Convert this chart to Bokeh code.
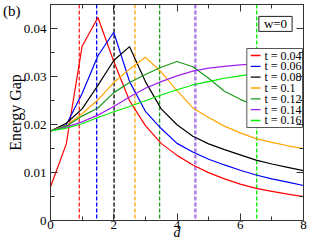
from bokeh.plotting import figure
from bokeh.models import (Span, Label, LinearAxis, Range1d, FixedTicker, CustomJSTickFormatter)
from bokeh.core.properties import value
from bokeh.embed import file_html
from bokeh.resources import INLINE

# ---- data ----
d_red = [0, 0.5, 0.6, 1.0, 1.5, 2.0, 2.5, 3.0, 3.5, 4.0, 4.5, 5.0, 5.5, 6.0, 6.5, 7.0, 7.5, 8.0]
gap_t004 = [0.0070, 0.0160, 0.0202, 0.0364, 0.0424, 0.0332, 0.0250, 0.0198, 0.0161, 0.0136,
            0.0116, 0.0100, 0.0087, 0.0076, 0.0067, 0.0061, 0.0055, 0.0050]

d_grid = [0, 0.5, 1.0, 1.5, 2.0, 2.5, 3.0, 3.5, 4.0, 4.5, 5.0, 5.5, 6.0, 6.5, 7.0, 7.5, 8.0]
gap_t006 = [0.0187, 0.0200, 0.0265, 0.0344, 0.0393, 0.0290, 0.0228, 0.0192, 0.0161, 0.0143,
            0.0128, 0.0116, 0.0105, 0.0095, 0.0087, 0.0080, 0.0073]
gap_t008 = [0.0187, 0.0203, 0.0233, 0.0282, 0.0334, 0.0363, 0.0290, 0.0233, 0.0200, 0.0176,
            0.0160, 0.0148, 0.0137, 0.0126, 0.0118, 0.0111, 0.0104]
gap_t010 = [0.0187, 0.0198, 0.0223, 0.0252, 0.0288, 0.0316, 0.0341, 0.0310, 0.0271, 0.0235,
            0.0215, 0.0197, 0.0183, 0.0171, 0.0163, 0.0156, 0.0150]
gap_t012 = [0.0187, 0.0197, 0.0218, 0.0235, 0.0267, 0.0288, 0.0305, 0.0320, 0.0332, 0.0321,
            0.0297, 0.0270, 0.0253, 0.0239, 0.0226, 0.0215, 0.0205]
gap_t014 = [0.0187, 0.0195, 0.0206, 0.0220, 0.0238, 0.0258, 0.0276, 0.0290, 0.0302, 0.0312,
            0.0318, 0.0322, 0.0325, 0.0327, 0.0328, 0.0329, 0.0329]
gap_t016 = [0.0187, 0.0193, 0.0202, 0.0215, 0.0227, 0.0238, 0.0250, 0.0262, 0.0273, 0.0283,
            0.0290, 0.0297, 0.0302, 0.0307, 0.0310, 0.0312, 0.0314]

t_labels = ["t = 0.04", "t = 0.06", "t = 0.08", "t = 0.1", "t = 0.12", "t = 0.14", "t = 0.16"]
d_marks = [0.91, 1.46, 2.01, 2.67, 3.45, 4.58, 6.52]

x_ticks = [0, 2, 4, 6, 8]
x_minor = [1, 3, 5, 7]
y_ticks = [0, 0.01, 0.02, 0.03, 0.04]
y_minor = [0.005, 0.015, 0.025, 0.035]

colors = ["#ff0000", "#0000ff", "#000000", "#ffa500", "#1c9a1c", "#a020f0", "#00ee00"]
mark_colors = ["#ff2020", "#0000ff", "#000000", "#ffa500", "#1c9a1c", "#b080e8", "#00ee00"]

FONT = "Liberation Serif"
W, H = 317, 245
FL, FR, FT, FB = 44, 14, 4, 25
BOT = H - FB  # frame bottom in page pixels
X0, X1, Y0, Y1 = 0, 8, 0, 0.0451

def px2x(px):
    return X0 + (px - FL) / (W - FL - FR) * (X1 - X0)

def py2y(py):
    return Y0 + (BOT - py) / (BOT - FT) * (Y1 - Y0)

p = figure(width=W, height=H, output_backend="svg", toolbar_location=None,
           x_range=Range1d(X0, X1), y_range=Range1d(Y0, Y1),
           min_border_left=FL, min_border_right=FR, min_border_top=FT, min_border_bottom=FB)
p.background_fill_color = "white"
p.border_fill_color = "white"
p.outline_line_color = "#333333"
p.xgrid.visible = False
p.ygrid.visible = False

xt = FixedTicker(ticks=x_ticks, minor_ticks=x_minor)
yt = FixedTicker(ticks=y_ticks, minor_ticks=y_minor)

def style_axis(ax):
    ax.major_tick_in = 7
    ax.major_tick_out = 0
    ax.minor_tick_in = 4
    ax.minor_tick_out = 0
    ax.axis_line_color = "#333333"
    ax.major_tick_line_color = "#333333"
    ax.minor_tick_line_color = "#333333"
    ax.major_label_text_font = FONT
    ax.major_label_text_font_size = "13px"
    ax.major_label_text_color = "black"
    ax.axis_label_text_font = FONT
    ax.axis_label_text_font_style = "normal"
    ax.axis_label_text_color = "black"

xa = p.xaxis[0]
ya = p.yaxis[0]
xa.ticker = xt
ya.ticker = yt
style_axis(xa)
style_axis(ya)
xa.formatter = CustomJSTickFormatter(code="return tick.toFixed(0);")
ya.formatter = CustomJSTickFormatter(code="return tick == 0 ? '0' : tick.toFixed(2);")
xa.major_label_standoff = 0
ya.major_label_standoff = 4
xa.axis_label = "d"
xa.axis_label_text_font_style = "italic"
xa.axis_label_text_font_size = "14px"
xa.axis_label_standoff = -7
ya.axis_label = "Energy Gap"
ya.axis_label_text_font_size = "16px"
ya.axis_label_standoff = -3

blank = "return '';"
top = LinearAxis(ticker=xt, formatter=CustomJSTickFormatter(code=blank), major_label_standoff=0)
right = LinearAxis(ticker=yt, formatter=CustomJSTickFormatter(code=blank), major_label_standoff=0)
style_axis(top)
style_axis(right)
top.major_label_text_font_size = "0px"
right.major_label_text_font_size = "0px"
p.add_layout(top, "above")
p.add_layout(right, "right")

# panel tag "(b)": an outer left axis with a single labelled tick, no line and no tick marks
tag_axis = LinearAxis(ticker=FixedTicker(ticks=[py2y(10)], minor_ticks=[]),
                      formatter=CustomJSTickFormatter(code="return '(b)';"),
                      major_tick_in=0, major_tick_out=0, minor_tick_in=0, minor_tick_out=0,
                      axis_line_color=None, major_tick_line_color=None, minor_tick_line_color=None,
                      major_label_standoff=-17, major_label_text_font=FONT,
                      major_label_text_font_size="15px", major_label_text_color="black")
p.add_layout(tag_axis, "left")

# dashed markers (under the curves and the legend box)
for v, c in zip(d_marks, mark_colors):
    w = 2.5 if c == "#b080e8" else 1.3
    p.add_layout(Span(location=v, dimension="height", line_color=c, line_dash="4 2",
                      line_width=w, level="underlay"))

series = [(d_red, gap_t004)] + [(d_grid, g) for g in (gap_t006, gap_t008, gap_t010, gap_t012, gap_t014, gap_t016)]
for (xs, ys), c in zip(series, colors):
    p.line(xs, ys, line_color=c, line_width=1.2)

# legend (drawn after the curves so that it covers them)
LEG_L, LEG_R, LEG_T, LEG_B = 245, 302, 48, 127
ROW0, PITCH = 55, 10.83
SW_L, SW_R, TXT_X = 249, 259, 263
rows_y = [py2y(ROW0 + i * PITCH) for i in range(len(t_labels))]
p.quad(left=[px2x(LEG_L)], right=[px2x(LEG_R)], top=[py2y(LEG_T)], bottom=[py2y(LEG_B)],
       fill_color="white", fill_alpha=1.0, line_color="#555555", line_width=1)
p.segment(x0=[px2x(SW_L)] * len(rows_y), x1=[px2x(SW_R)] * len(rows_y), y0=rows_y, y1=rows_y,
          line_color=colors, line_width=1.3)
p.text(x=[px2x(TXT_X)] * len(rows_y), y=rows_y, text=t_labels, text_font=value(FONT),
       text_font_size=value("12px"), text_align="left", text_baseline="middle",
       text_color="black")

p.add_layout(Label(x=269 - FL, y=BOT - 23.4, x_units="screen", y_units="screen", text="w=0",
                   anchor="center", text_font=FONT, text_font_size="13px", text_color="black",
                   border_line_color="#222222", border_line_width=1,
                   background_fill_color="white",
                   padding=dict(left=5, right=5, top=0, bottom=0)))

open("out.html", "w").write(file_html(p, INLINE))
